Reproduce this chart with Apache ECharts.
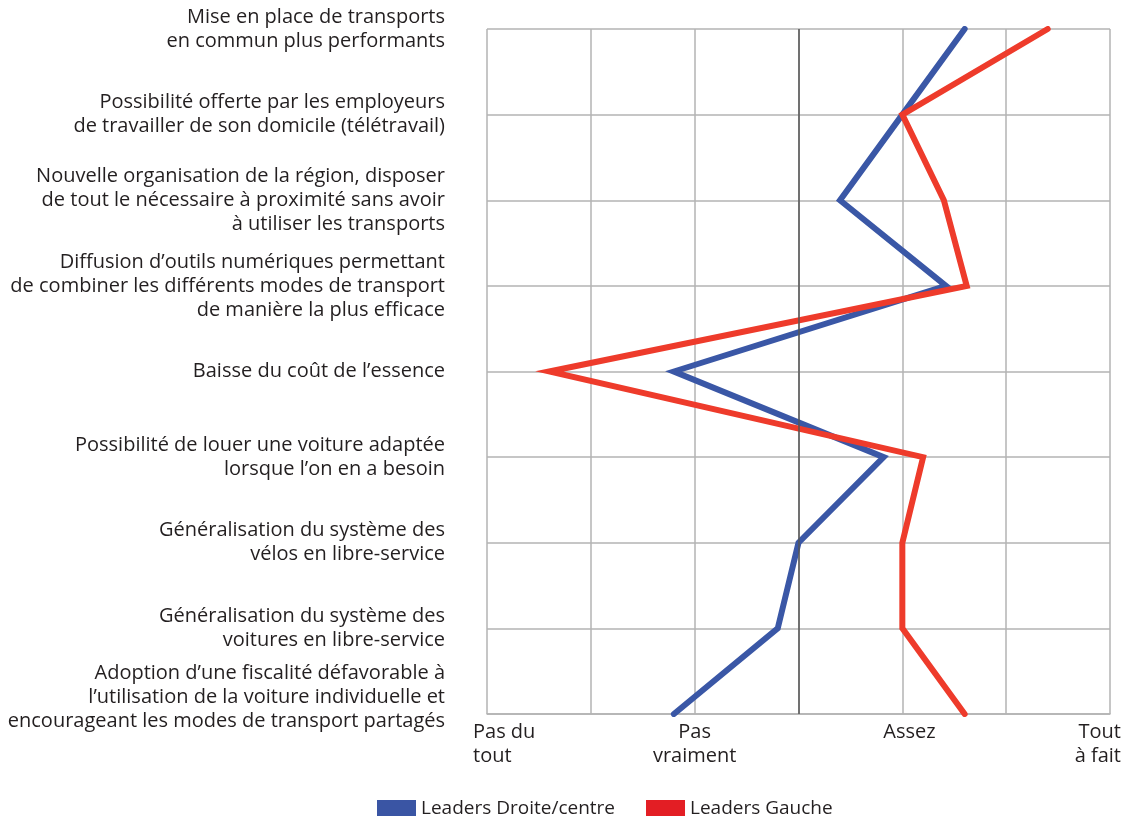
<!DOCTYPE html>
<html>
<head>
<meta charset="utf-8">
<script src="https://cdn.jsdelivr.net/npm/echarts@6/dist/echarts.min.js"></script>
<style>
  html, body { margin: 0; padding: 0; background: #fff; }
  #main { width: 1126px; height: 816px; }
</style>
</head>
<body>
<div id="main"></div>
<script>
var categories = [
    'Mise en place de transports\nen commun plus performants',
    'Possibilité offerte par les employeurs\nde travailler de son domicile (télétravail)',
    'Nouvelle organisation de la région, disposer\nde tout le nécessaire à proximité sans avoir\nà utiliser les transports',
    'Diffusion d\u2019outils numériques permettant\nde combiner les différents modes de transport\nde manière la plus efficace',
    'Baisse du coût de l\u2019essence',
    'Possibilité de louer une voiture adaptée\nlorsque l\u2019on en a besoin',
    'Généralisation du système des\nvélos en libre-service',
    'Généralisation du système des\nvoitures en libre-service',
    'Adoption d\u2019une fiscalité défavorable à\nl\u2019utilisation de la voiture individuelle et\nencourageant les modes de transport partagés'
];
var droiteCentre = [3.30, 3.00, 2.70, 3.21, 1.90, 2.91, 2.50, 2.40, 1.90];
var gauche = [3.70, 3.00, 3.20, 3.31, 1.30, 3.10, 3.00, 3.00, 3.30];

var font = 'Open Sans';
var txt = '#231f20';
var fs = 20;

var myChart = echarts.init(document.getElementById('main'));

function tok(style, s) {
    return s.split('\n').map(function (l) { return '{' + style + '|' + l + '}'; }).join('\n');
}

var base = { fontSize: fs, color: txt, lineHeight: 24, fontFamily: font };

var option = {
    animation: false,
    textStyle: { fontFamily: font },
    grid: { left: 487, right: 16, top: 29, bottom: 102, containLabel: false },
    legend: {
        left: 377,
        top: 799,
        padding: 0,
        icon: 'rect',
        itemWidth: 39,
        itemHeight: 17,
        itemGap: 31,
        textStyle: { fontFamily: font, fontSize: 19, color: txt },
        data: [
            { name: 'Leaders Droite/centre', itemStyle: { color: '#3a55a4' } },
            { name: 'Leaders Gauche', itemStyle: { color: '#e31e24' } }
        ]
    },
    xAxis: {
        type: 'value',
        min: 1,
        max: 4,
        interval: 0.5,
        axisLine: { show: true, lineStyle: { color: '#b3b3b3', width: 1.5 } },
        axisTick: { show: false },
        splitLine: { show: true, lineStyle: { color: '#b3b3b3', width: 1.5 } },
        axisLabel: {
            show: true,
            margin: 6,
            color: txt,
            fontSize: fs,
            lineHeight: 24,
            align: 'center',
            verticalAlign: 'top',
            formatter: function (v) {
                if (v === 1) return tok('l', 'Pas du\ntout');
                if (v === 4) return tok('r', 'Tout\nà fait');
                if (v === 3) return tok('a', 'Assez');
                if (v === 2) return tok('c', 'Pas\nvraiment');
                return '';
            },
            rich: {
                l: Object.assign({ width: 28, align: 'left' }, base),
                r: Object.assign({ width: 22, align: 'right' }, base),
                a: Object.assign({ width: 38, align: 'left' }, base),
                c: Object.assign({ align: 'center' }, base)
            }
        }
    },
    yAxis: {
        type: 'category',
        inverse: true,
        boundaryGap: false,
        data: categories,
        axisLine: { show: false },
        axisTick: { show: false },
        splitLine: { show: true, lineStyle: { color: '#b3b3b3', width: 1.5 } },
        axisLabel: {
            margin: 42,
            color: txt,
            fontSize: fs,
            lineHeight: 24,
            align: 'right',
            formatter: function (v, i) {
                if (i === categories.length - 1) return tok('t', v) + '\n{s| }';
                return tok('t', v);
            },
            rich: {
                t: Object.assign({ align: 'right' }, base),
                s: { fontSize: 1, lineHeight: 34 }
            }
        }
    },
    series: [
        {
            name: 'Leaders Droite/centre',
            type: 'line',
            data: droiteCentre,
            symbol: 'none',
            color: '#3a57a6',
            lineStyle: { width: 6, color: '#3a57a6', cap: 'round', join: 'miter' },
            markLine: {
                silent: true,
                symbol: 'none',
                label: { show: false },
                lineStyle: { color: '#555', width: 1.5, type: 'solid' },
                data: [{ xAxis: 2.5 }]
            },
            z: 2
        },
        {
            name: 'Leaders Gauche',
            type: 'line',
            data: gauche,
            symbol: 'none',
            color: '#ee3b2b',
            lineStyle: { width: 6, color: '#ee3b2b', cap: 'round', join: 'miter' },
            z: 3
        }
    ]
};

myChart.setOption(option);
</script>
</body>
</html>
